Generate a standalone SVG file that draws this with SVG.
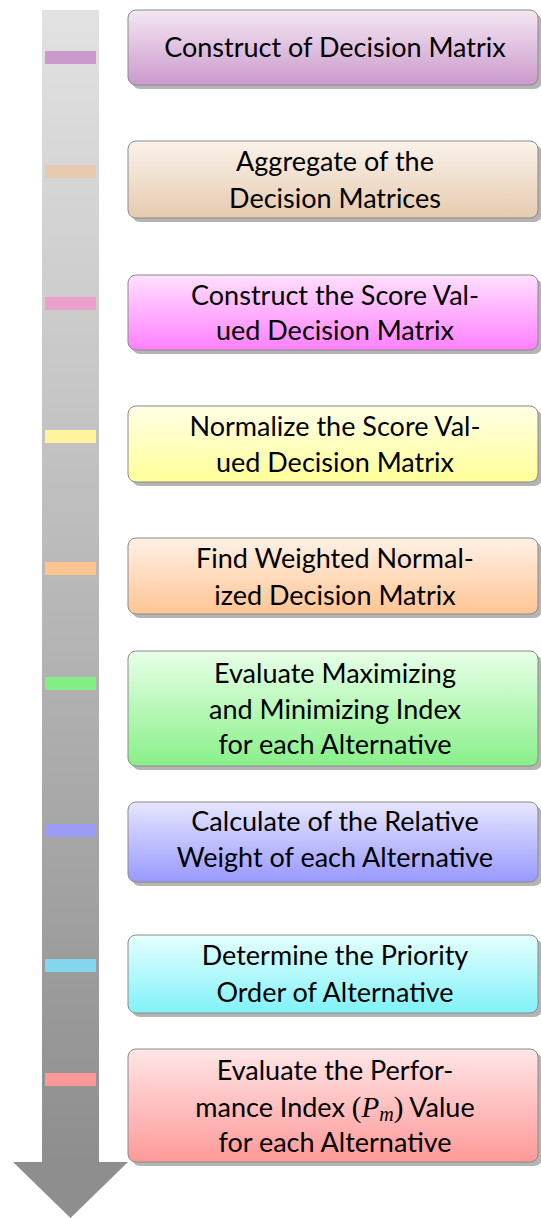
<svg xmlns="http://www.w3.org/2000/svg" width="541" height="1218" viewBox="0 0 541 1218">
<style>
.box{stroke:#8a8a8a;stroke-width:1}
.sh{fill:#b4b4b4}
.t{font-family:Lato,"Noto Sans",sans-serif;font-size:27px;fill:#000;text-anchor:middle}
.m{font-family:"Liberation Serif",serif;font-style:normal;font-size:29px}
</style>
<defs>
<linearGradient id="shaft" x1="0" y1="0" x2="0" y2="1"><stop offset="0" stop-color="#e2e2e2"/><stop offset="1" stop-color="#8e8e8e"/></linearGradient>
<linearGradient id="g1" x1="0" y1="0" x2="0" y2="1"><stop offset="0" stop-color="#f3e8f3"/><stop offset="1" stop-color="#cc99cc"/></linearGradient>
<linearGradient id="g2" x1="0" y1="0" x2="0" y2="1"><stop offset="0" stop-color="#faf2ea"/><stop offset="1" stop-color="#e6cbb0"/></linearGradient>
<linearGradient id="g3" x1="0" y1="0" x2="0" y2="1"><stop offset="0" stop-color="#ffe0ff"/><stop offset="1" stop-color="#ff80ff"/></linearGradient>
<linearGradient id="g4" x1="0" y1="0" x2="0" y2="1"><stop offset="0" stop-color="#ffffe6"/><stop offset="1" stop-color="#ffff99"/></linearGradient>
<linearGradient id="g5" x1="0" y1="0" x2="0" y2="1"><stop offset="0" stop-color="#fff1e6"/><stop offset="1" stop-color="#ffc594"/></linearGradient>
<linearGradient id="g6" x1="0" y1="0" x2="0" y2="1"><stop offset="0" stop-color="#e8ffe8"/><stop offset="1" stop-color="#88f088"/></linearGradient>
<linearGradient id="g7" x1="0" y1="0" x2="0" y2="1"><stop offset="0" stop-color="#e6e6ff"/><stop offset="1" stop-color="#9999ff"/></linearGradient>
<linearGradient id="g8" x1="0" y1="0" x2="0" y2="1"><stop offset="0" stop-color="#e6ffff"/><stop offset="1" stop-color="#80f2f8"/></linearGradient>
<linearGradient id="g9" x1="0" y1="0" x2="0" y2="1"><stop offset="0" stop-color="#ffe6e6"/><stop offset="1" stop-color="#ff9999"/></linearGradient>
</defs>
<g id="timeline">
<rect x="42" y="10" width="57" height="1153" fill="url(#shaft)"/>
<polygon points="13,1162 128,1162 70.5,1218" fill="#8e8e8e"/>
<rect x="45" y="51" width="51" height="13" fill="#cc99cc"/>
<rect x="45" y="165" width="51" height="13" fill="#e8cbaf"/>
<rect x="45" y="297" width="51" height="13" fill="#eca0cc"/>
<rect x="45" y="430" width="51" height="13" fill="#fff3a0"/>
<rect x="45" y="562" width="51" height="13" fill="#ffc590"/>
<rect x="45" y="677" width="51" height="13" fill="#84ee84"/>
<rect x="45" y="824" width="51" height="13" fill="#9c9cf6"/>
<rect x="45" y="959" width="51" height="13" fill="#84d6ee"/>
<rect x="45" y="1073" width="51" height="13" fill="#ff9999"/>
</g>
<g id="connectors"></g>
<g id="n1"><rect class="sh" x="132" y="14" width="410" height="75" rx="8"/><rect class="box" x="128" y="10" width="410" height="75" rx="8" fill="url(#g1)"/><text class="t" x="335" y="57">Construct of Decision Matrix</text></g>
<g id="n2"><rect class="sh" x="132" y="145" width="410" height="77" rx="8"/><rect class="box" x="128" y="141" width="410" height="77" rx="8" fill="url(#g2)"/><text class="t" x="335" y="171">Aggregate of the</text><text class="t" x="335" y="208">Decision Matrices</text></g>
<g id="n3"><rect class="sh" x="132" y="279" width="410" height="75" rx="8"/><rect class="box" x="128" y="275" width="410" height="75" rx="8" fill="url(#g3)"/><text class="t" x="335" y="305">Construct the Score Val-</text><text class="t" x="335" y="340">ued Decision Matrix</text></g>
<g id="n4"><rect class="sh" x="132" y="410" width="410" height="76" rx="8"/><rect class="box" x="128" y="406" width="410" height="76" rx="8" fill="url(#g4)"/><text class="t" x="335" y="436">Normalize the Score Val-</text><text class="t" x="335" y="472">ued Decision Matrix</text></g>
<g id="n5"><rect class="sh" x="132" y="542" width="410" height="76" rx="8"/><rect class="box" x="128" y="538" width="410" height="76" rx="8" fill="url(#g5)"/><text class="t" x="335" y="568">Find Weighted Normal-</text><text class="t" x="335" y="605">ized Decision Matrix</text></g>
<g id="n6"><rect class="sh" x="132" y="655" width="410" height="115" rx="8"/><rect class="box" x="128" y="651" width="410" height="115" rx="8" fill="url(#g6)"/><text class="t" x="335" y="683">Evaluate Maximizing</text><text class="t" x="335" y="719">and Minimizing Index</text><text class="t" x="335" y="754">for each Alternative</text></g>
<g id="n7"><rect class="sh" x="132" y="806" width="410" height="80" rx="8"/><rect class="box" x="128" y="802" width="410" height="80" rx="8" fill="url(#g7)"/><text class="t" x="335" y="831">Calculate of the Relative</text><text class="t" x="335" y="867">Weight of each Alternative</text></g>
<g id="n8"><rect class="sh" x="132" y="939" width="410" height="78" rx="8"/><rect class="box" x="128" y="935" width="410" height="78" rx="8" fill="url(#g8)"/><text class="t" x="335" y="965">Determine the Priority</text><text class="t" x="335" y="1002">Order of Alternative</text></g>
<g id="n9"><rect class="sh" x="132" y="1053" width="410" height="113" rx="8"/><rect class="box" x="128" y="1049" width="410" height="113" rx="8" fill="url(#g9)"/><text class="t" x="335" y="1080">Evaluate the Perfor-</text><text class="t" x="335" y="1117">mance Index <tspan class="m">(<tspan font-style="italic">P</tspan><tspan font-style="italic" font-size="20" dy="4">m</tspan><tspan dy="-4">)</tspan></tspan> Value</text><text class="t" x="335" y="1152">for each Alternative</text></g>
</svg>
